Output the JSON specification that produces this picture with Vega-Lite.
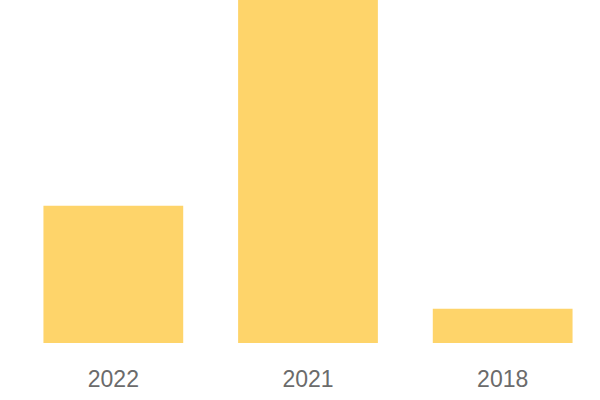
{
  "$schema": "https://vega.github.io/schema/vega-lite/v6.json",
  "autosize": "none",
  "padding": {"left": 16, "top": 0, "right": 0, "bottom": 57},
  "width": 584,
  "height": 343,
  "background": "white",
  "data": {"values": [
    {"year": "2022", "value": 40},
    {"year": "2021", "value": 100},
    {"year": "2018", "value": 10}
  ]},
  "mark": {"type": "bar", "color": "#FED46A"},
  "encoding": {
    "x": {"field": "year", "type": "nominal", "sort": null,
      "scale": {"paddingInner": 0.282, "paddingOuter": 0.141},
      "axis": {"title": null, "domain": false, "ticks": false, "labelAngle": 0,
        "labelFont": "Liberation Sans", "labelFontSize": 23, "labelColor": "#6b6b6b",
        "labelPadding": 25}},
    "y": {"field": "value", "type": "quantitative",
      "scale": {"domain": [0, 100], "nice": false},
      "axis": null}
  },
  "config": {"view": {"stroke": null}}
}
